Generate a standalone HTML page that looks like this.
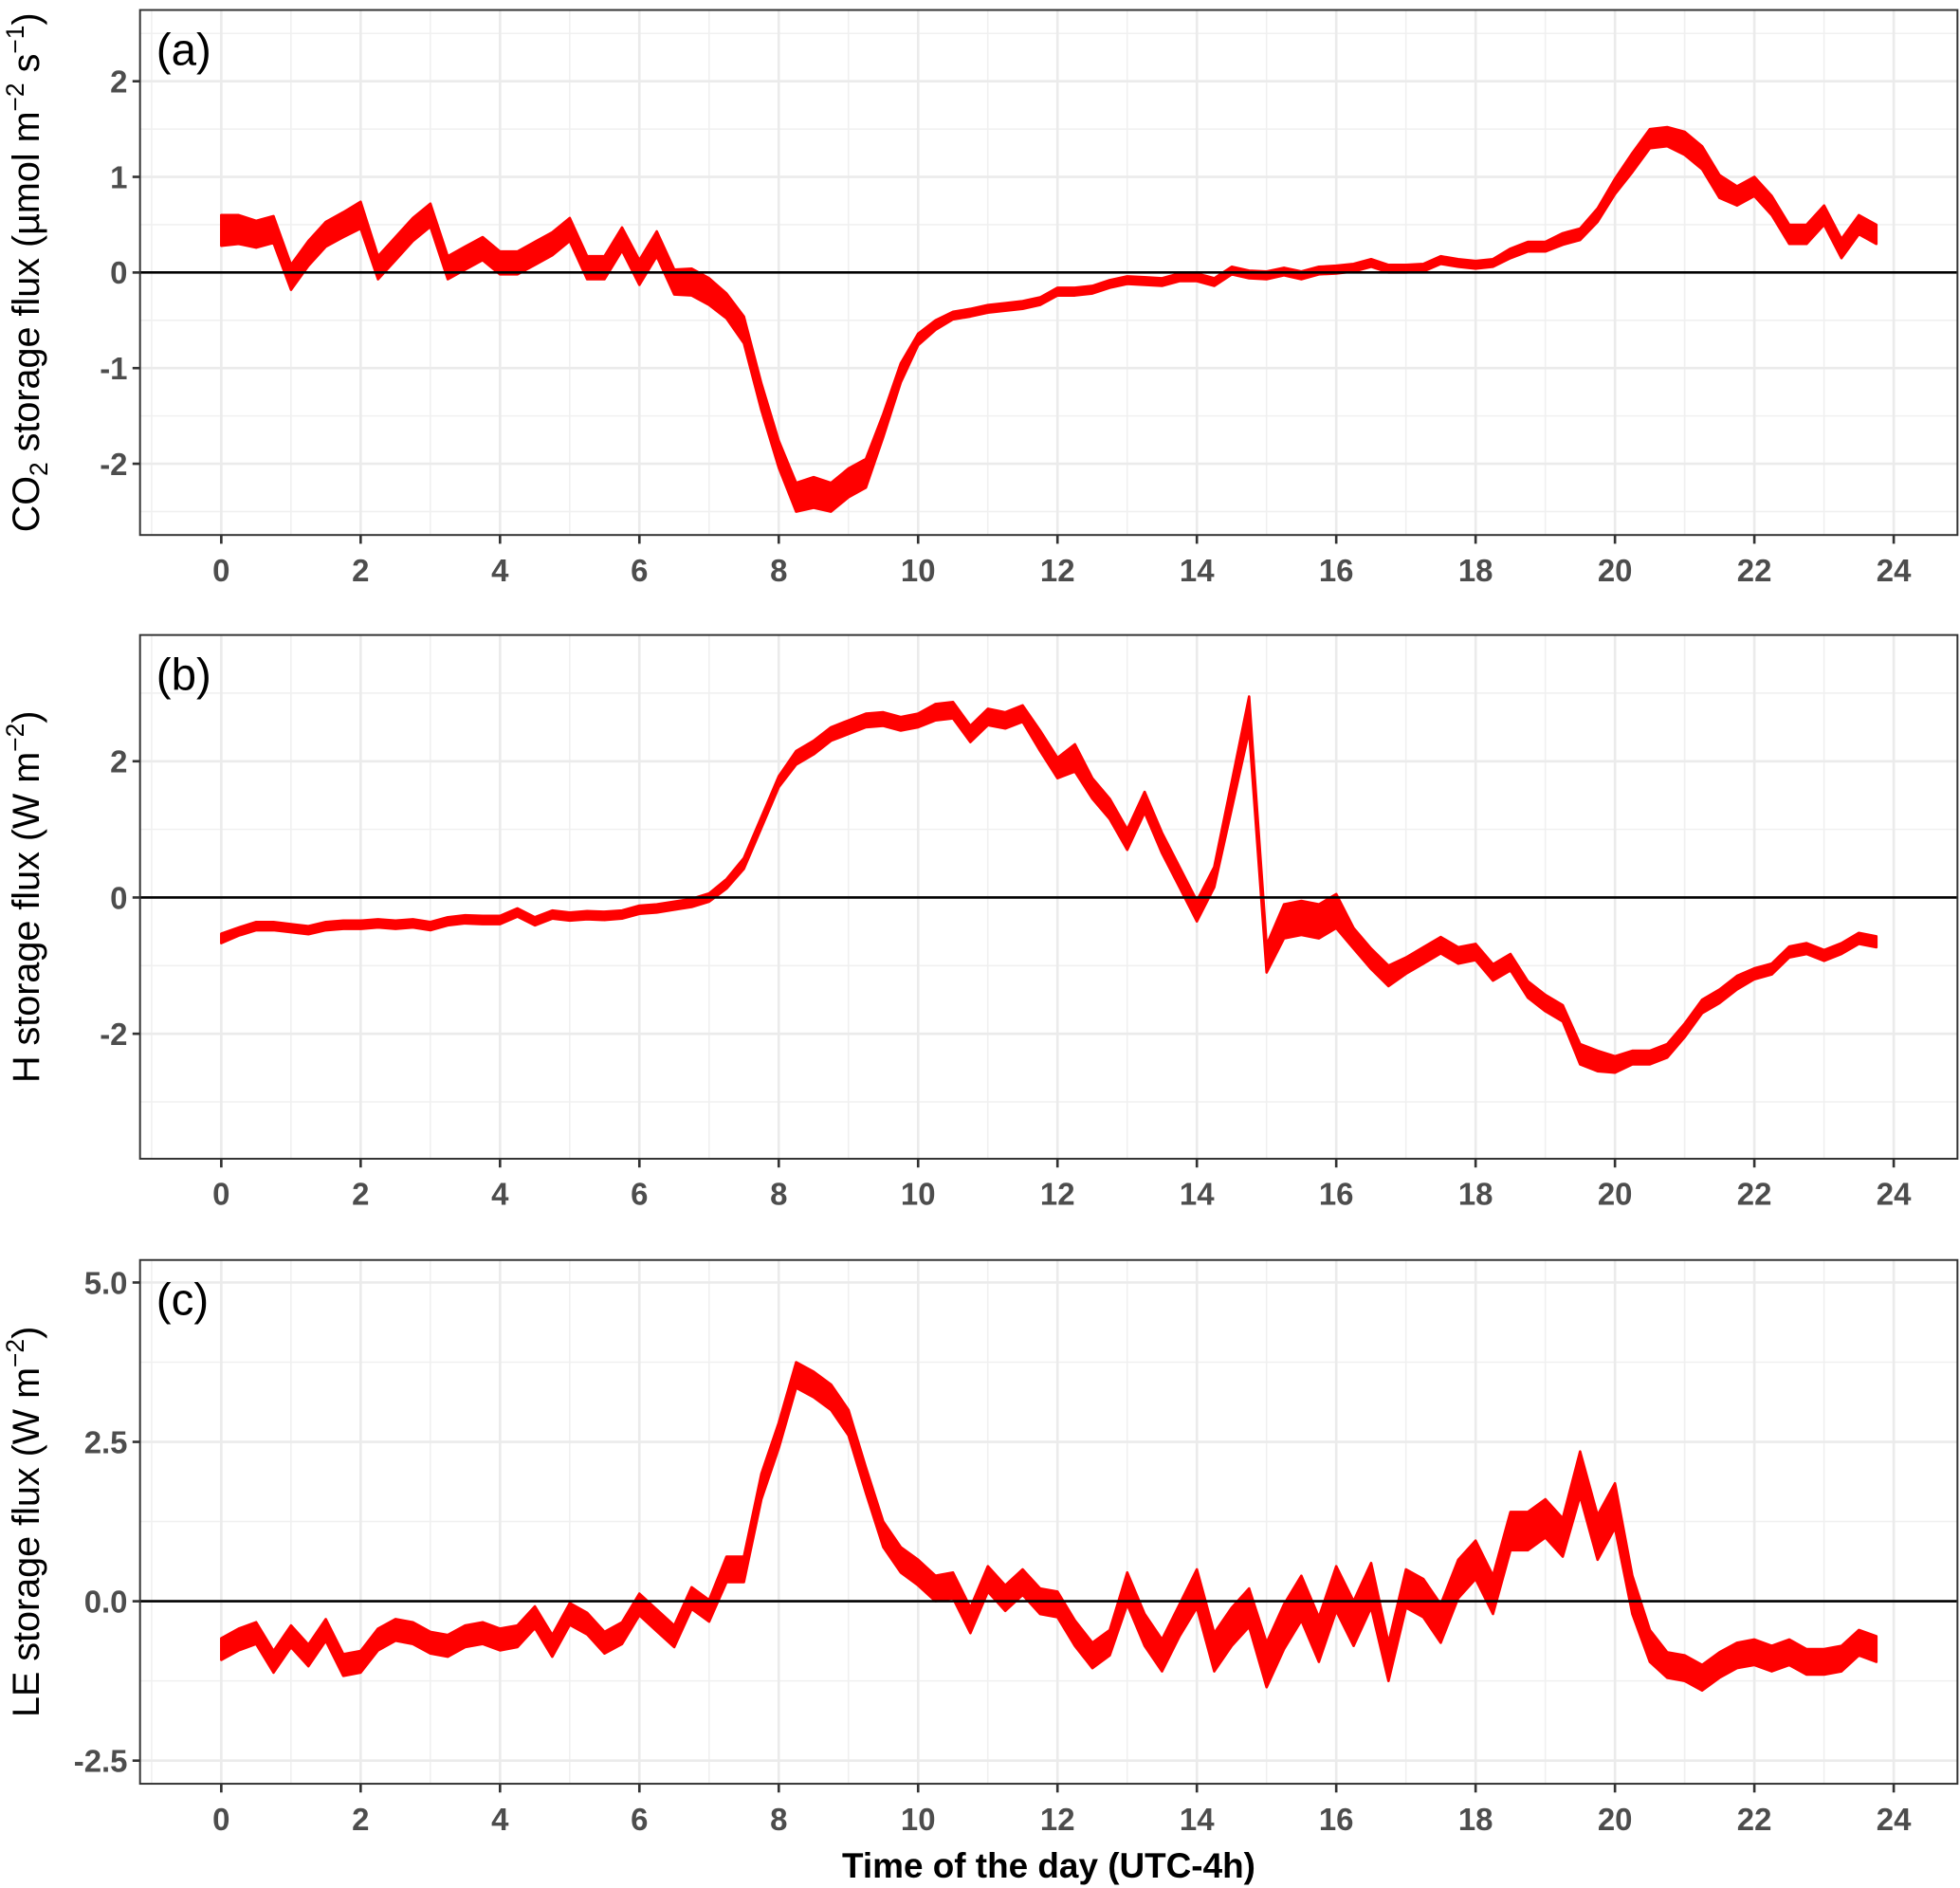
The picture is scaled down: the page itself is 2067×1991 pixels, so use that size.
<!DOCTYPE html>
<html><head><meta charset="utf-8"><style>
html,body{margin:0;padding:0;background:#fff}
svg{display:block}
text{font-family:"Liberation Sans",Arial,sans-serif}
.tick{font-size:25px;font-weight:bold;fill:#4d4d4d}
.ttl{font-size:30px;fill:#000}
</style></head><body>
<svg id="chart" width="2067" height="1991" viewBox="0 0 1568 1510.4" xmlns="http://www.w3.org/2000/svg"></svg>
<script>
const timeStep = 0.25;
const xTicks = [0,2,4,6,8,10,12,14,16,18,20,22,24];

const co2Mid = [.44,.45,.4,.45,-.05,.2,.4,.5,.6,.05,.25,.45,.6,.05,.15,.25,.1,.1,.2,.3,.45,.05,.05,.35,0,.3,-.1,-.1,-.2,-.35,-.6,-1.3,-1.9,-2.35,-2.3,-2.35,-2.2,-2.1,-1.6,-1.05,-.7,-.55,-.45,-.42,-.38,-.36,-.34,-.3,-.2,-.2,-.18,-.12,-.08,-.09,-.1,-.05,-.05,-.1,.02,-.02,-.03,.01,-.03,.02,.03,.05,.1,.04,.04,.05,.13,.1,.08,.1,.2,.27,.27,.35,.4,.6,.9,1.15,1.4,1.42,1.35,1.2,.9,.8,.9,.7,.4,.4,.6,.25,.5,.4];
const co2Half = [.16,.15,.14,.14,.13,.13,.13,.13,.14,.12,.12,.12,.12,.12,.12,.12,.12,.12,.12,.12,.12,.12,.12,.12,.13,.13,.13,.14,.14,.13,.14,.14,.14,.15,.16,.15,.15,.15,.12,.1,.06,.05,.04,.04,.04,.04,.04,.04,.04,.04,.04,.04,.04,.04,.04,.04,.04,.04,.04,.04,.04,.04,.04,.04,.04,.04,.04,.04,.04,.04,.04,.04,.04,.04,.05,.05,.05,.06,.06,.07,.08,.1,.1,.1,.12,.12,.12,.1,.1,.1,.1,.1,.1,.1,.1,.1];

const hMid = [-.6,-.5,-.42,-.42,-.45,-.48,-.42,-.4,-.4,-.38,-.4,-.38,-.42,-.35,-.32,-.33,-.33,-.22,-.35,-.25,-.28,-.26,-.27,-.25,-.18,-.16,-.12,-.08,0,.2,.5,1.1,1.7,2.05,2.2,2.4,2.5,2.6,2.62,2.55,2.6,2.72,2.75,2.4,2.65,2.6,2.7,2.3,1.9,2.05,1.6,1.3,.85,1.4,.8,.3,-.2,.3,1.5,2.7,-.9,-.35,-.3,-.35,-.2,-.6,-.9,-1.15,-1,-.85,-.7,-.85,-.8,-1.1,-.95,-1.35,-1.55,-1.7,-2.3,-2.4,-2.45,-2.35,-2.35,-2.25,-1.95,-1.6,-1.45,-1.25,-1.12,-1.05,-.8,-.75,-.85,-.75,-.6,-.65];
const hHalf = [.07,.06,.06,.06,.06,.06,.06,.06,.06,.06,.06,.06,.06,.06,.06,.06,.06,.06,.06,.06,.06,.06,.06,.06,.06,.06,.06,.06,.06,.07,.08,.08,.08,.1,.1,.1,.1,.1,.1,.1,.1,.12,.12,.12,.12,.12,.12,.15,.15,.2,.15,.15,.15,.15,.15,.15,.15,.15,.2,.25,.2,.25,.25,.25,.25,.15,.15,.15,.12,.12,.12,.12,.12,.12,.12,.12,.12,.12,.15,.15,.12,.1,.1,.1,.1,.1,.1,.1,.08,.08,.08,.08,.08,.08,.08,.08];

const leMid = [-.75,-.6,-.5,-.95,-.55,-.85,-.45,-1,-.95,-.6,-.45,-.5,-.65,-.7,-.55,-.5,-.6,-.55,-.25,-.7,-.2,-.35,-.65,-.5,-.05,-.3,-.55,.05,-.15,.5,.5,1.8,2.6,3.55,3.4,3.2,2.8,1.9,1.05,.65,.45,.2,.25,-.3,.35,.05,.3,0,-.05,-.5,-.85,-.65,.2,-.45,-.85,-.3,.2,-.8,-.4,-.1,-1,-.4,.05,-.6,.2,-.35,.25,-.95,.2,.05,-.35,.35,.65,.1,1.1,1.1,1.3,1,2,1,1.5,.1,-.7,-1,-1.05,-1.2,-1,-.85,-.8,-.9,-.8,-.95,-.95,-.9,-.65,-.75];
const leHalf = [.17,.17,.17,.17,.17,.17,.17,.17,.17,.17,.17,.17,.17,.17,.17,.17,.17,.17,.17,.17,.17,.17,.17,.17,.17,.17,.17,.17,.17,.2,.2,.2,.2,.2,.2,.2,.2,.2,.2,.2,.2,.2,.2,.2,.2,.2,.2,.2,.2,.2,.2,.2,.25,.25,.25,.25,.3,.3,.3,.3,.35,.35,.35,.35,.35,.35,.35,.3,.3,.3,.3,.3,.3,.3,.3,.3,.3,.3,.35,.35,.35,.3,.25,.2,.2,.2,.2,.2,.2,.2,.2,.2,.2,.2,.2,.2];

const aTicks=[-2,-1,0,1,2], aLabels=["-2","-1","0","1","2"];
const bTicks=[-2,0,2], bLabels=["-2","0","2"];
const cTicks=[-2.5,0,2.5,5], cLabels=["-2.5","0.0","2.5","5.0"];

const NS="http://www.w3.org/2000/svg";
const svg=document.getElementById('chart');
function mk(tag,attrs,parent){const e=document.createElementNS(NS,tag);for(const k in attrs)e.setAttribute(k,attrs[k]);(parent||svg).appendChild(e);return e;}

const L=112,R=1566,X0=177,XPH=(1515-177)/24;
const xs=t=>X0+t*XPH;

function panel(id,top,bot,y0px,pxPerUnit,ymin,ymax,ticks,labels,mid,half,letter,titleLines){
  const g=mk('g',{});
  
  
  const ys=v=>y0px-v*pxPerUnit;
  for(let t=-1;t<=25;t+=2){const x=xs(t);if(x>L&&x<R){const l=mk('line',{x1:x,x2:x,y1:top,y2:bot,stroke:'#f0f0f0','stroke-width':1.2},g);}}
  const step=ticks[1]-ticks[0];
  for(let i=-1;i<ticks.length;i++){const v=ticks[0]+(i+0.5)*step;const y=ys(v);if(y>top&&y<bot){const l=mk('line',{x1:L,x2:R,y1:y,y2:y,stroke:'#f0f0f0','stroke-width':1.2},g);}}
  xTicks.forEach(t=>{const l=mk('line',{x1:xs(t),x2:xs(t),y1:top,y2:bot,stroke:'#ebebeb','stroke-width':2},g);});
  ticks.forEach(v=>{const l=mk('line',{x1:L,x2:R,y1:ys(v),y2:ys(v),stroke:'#ebebeb','stroke-width':2},g);});
  let up='',lo='';
  mid.forEach((m,i)=>{const x=xs(i*timeStep);up+=(i?'L':'M')+x.toFixed(1)+','+ys(m+half[i]).toFixed(1);});
  for(let i=mid.length-1;i>=0;i--){const x=xs(i*timeStep);lo+='L'+x.toFixed(1)+','+ys(mid[i]-half[i]).toFixed(1);}
  const rb=mk('path',{d:up+lo+'Z',fill:'#ff0000',stroke:'#ff0000','stroke-width':2,'stroke-linejoin':'round'},g);
  
  
  const z=mk('line',{x1:L,x2:R,y1:ys(0),y2:ys(0),stroke:'#000','stroke-width':2},g);
  
  
  const b=mk('rect',{x:L,y:top,width:R-L,height:bot-top,fill:'none',stroke:'#333','stroke-width':1.5},g);
  
  
  ticks.forEach((v,i)=>{const y=ys(v);mk('line',{x1:L-6,x2:L,y1:y,y2:y,stroke:'#333','stroke-width':2},g);
    const t=mk('text',{x:L-10,y:y+9,'text-anchor':'end',class:'tick'},g);t.textContent=labels[i];
    
    });
  xTicks.forEach(tv=>{const x=xs(tv);mk('line',{x1:x,x2:x,y1:bot,y2:bot+7,stroke:'#333','stroke-width':2},g);
    const t=mk('text',{x:x,y:bot+37,'text-anchor':'middle',class:'tick'},g);t.textContent=String(tv);
    
    });
  const pl=mk('text',{x:125,y:top+44,'font-size':36},g);pl.textContent=letter;
  
  
  const cy=(top+bot)/2;
  const yt=mk('text',{transform:`translate(31,${cy}) rotate(-90)`,'text-anchor':'middle',class:'ttl'},g);
  yt.innerHTML=titleLines;
  
  
}

panel('a',8,428,218,76.5,-2.75,2.75,aTicks,aLabels,co2Mid,co2Half,'(a)',
 'CO<tspan dy="7" font-size="20">2</tspan><tspan dy="-7"> storage flux (µmol m</tspan><tspan dy="-12" font-size="20">−2</tspan><tspan dy="12"> s</tspan><tspan dy="-12" font-size="20">−1</tspan><tspan dy="12">)</tspan>');
panel('b',508,927,718,54.5,-3.85,3.85,bTicks,bLabels,hMid,hHalf,'(b)',
 'H storage flux (W m<tspan dy="-12" font-size="20">−2</tspan><tspan dy="12">)</tspan>');
panel('c',1008,1427,1281,51,-2.86,5.35,cTicks,cLabels,leMid,leHalf,'(c)',
 'LE storage flux (W m<tspan dy="-12" font-size="20">−2</tspan><tspan dy="12">)</tspan>');

const xt=mk('text',{x:839,y:1502,'text-anchor':'middle','font-size':28,'font-weight':'bold',fill:'#000'});
xt.textContent='Time of the day (UTC-4h)';


</script>
</body></html>
